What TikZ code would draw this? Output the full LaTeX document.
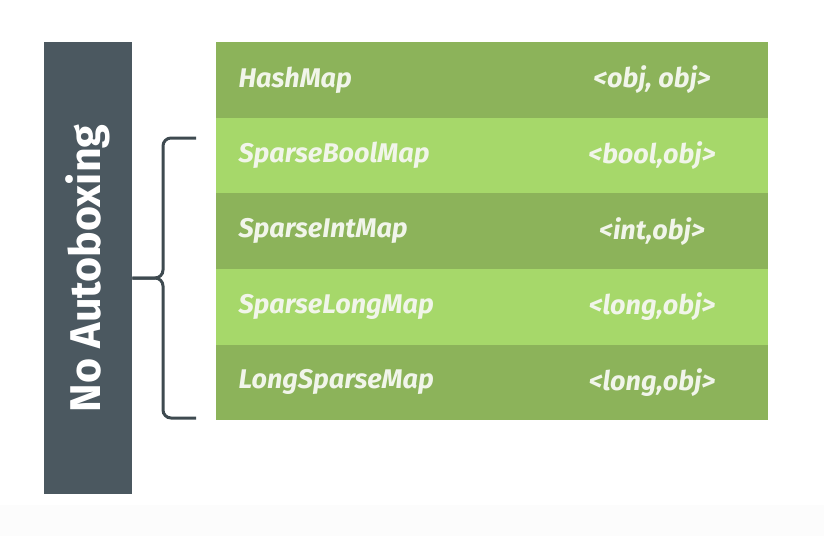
\documentclass[tikz,border=0pt]{standalone}
\usepackage{fontspec}
\setmainfont{Fira Sans}
\definecolor{bargray}{HTML}{4B5860}
\definecolor{rowdark}{HTML}{8CB35A}
\definecolor{rowlight}{HTML}{A6D86A}
\definecolor{labelwhite}{HTML}{F1F5EA}
\definecolor{bracegray}{HTML}{3E4A50}
\tikzset{
	row/.style={minimum width=552pt, minimum height=75.6pt, inner sep=0pt, anchor=north west},
	mapname/.style={anchor=west, text=labelwhite, font=\fontsize{27}{31}\selectfont\bfseries\itshape},
	maptype/.style={text=labelwhite, font=\fontsize{27}{31}\selectfont\bfseries\itshape},
}
\begin{document}
\begin{tikzpicture}[x=1pt,y=-1pt]
		\useasboundingbox[fill=white] (0,0) rectangle (824,536);
		\fill[black!1.2] (0,505) rectangle (824,536);
		\node[fill=bargray, minimum width=88pt, minimum height=452pt, inner sep=0pt, anchor=north west] (bar) at (44,42) {};
		\node[rotate=90, text=white, font=\fontsize{43}{48}\selectfont\bfseries] (autoboxing) at (bar.center) {No Autoboxing};
		\node[row, fill=rowdark] (hashmap) at (216,42) {};
		\node[row, fill=rowlight] (boolmap) at (216,117.6) {};
		\node[row, fill=rowdark] (intmap) at (216,193.2) {};
		\node[row, fill=rowlight] (longmap) at (216,268.8) {};
		\node[row, fill=rowdark] (longsparse) at (216,344.4) {};
		\node[mapname] (hashmapname) at (235, 0 |- hashmap.center) {HashMap};
		\node[mapname] (boolmapname) at (235, 0 |- boolmap.center) {SparseBoolMap};
		\node[mapname] (intmapname) at (235, 0 |- intmap.center) {SparseIntMap};
		\node[mapname] (longmapname) at (235, 0 |- longmap.center) {SparseLongMap};
		\node[mapname] (longsparsename) at (235, 0 |- longsparse.center) {LongSparseMap};
		\node[maptype] (hashmaptype) at (652, 0 |- hashmap.center) {<obj, obj>};
		\node[maptype] (boolmaptype) at (652, 0 |- boolmap.center) {<bool,obj>};
		\node[maptype] (intmaptype) at (652, 0 |- intmap.center) {<int,obj>};
		\node[maptype] (longmaptype) at (652, 0 |- longmap.center) {<long,obj>};
		\node[maptype] (longsparsetype) at (652, 0 |- longsparse.center) {<long,obj>};
		\coordinate (bracetop) at (196,138);
		\coordinate (bracebottom) at (196,418);
		\coordinate (bracetip) at (bar.east |- 0,278);
		\draw[bracegray, line width=3pt, rounded corners=8pt] (bracetop) -- (163,138) -- (163,278) -- (bracetip);
		\draw[bracegray, line width=3pt, rounded corners=8pt] (bracebottom) -- (163,418) -- (163,278) -- (bracetip);
	\end{tikzpicture}
\end{document}
